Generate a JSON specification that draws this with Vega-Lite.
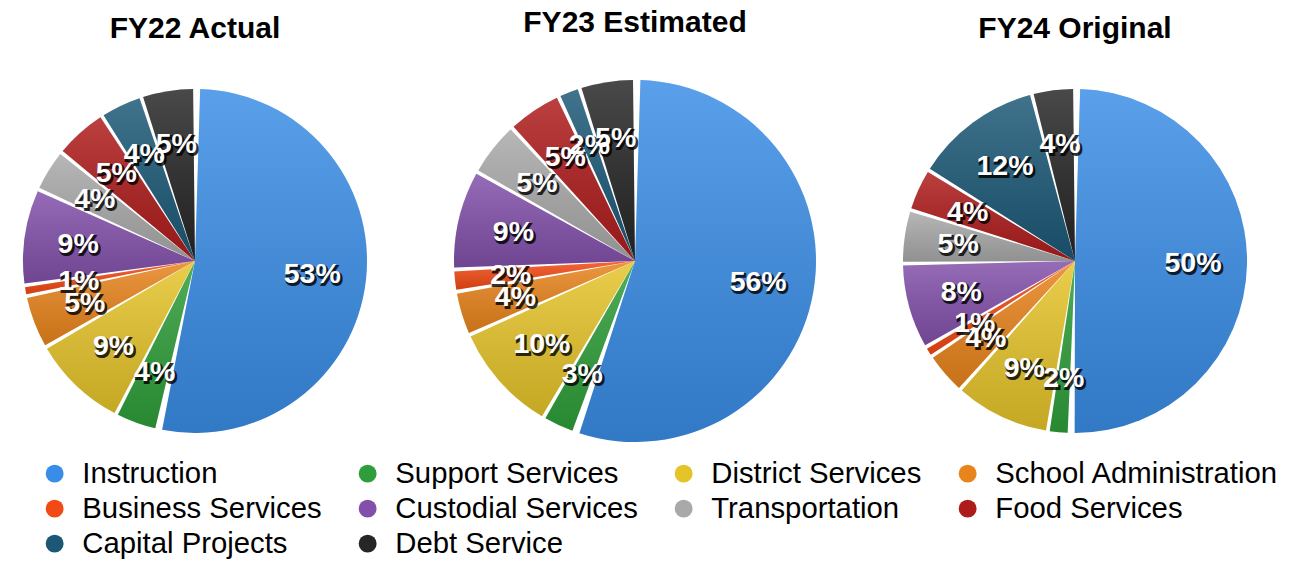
{
  "$schema": "https://vega.github.io/schema/vega-lite/v6.json",
  "padding": {"top": 8, "left": 0, "right": 0, "bottom": 0},
  "background": "white",
  "data": {"values": [
    {"year": "FY22", "category": "Instruction", "value": 0.53},
    {"year": "FY22", "category": "Support Services", "value": 0.04},
    {"year": "FY22", "category": "District Services", "value": 0.09},
    {"year": "FY22", "category": "School Administration", "value": 0.05},
    {"year": "FY22", "category": "Business Services", "value": 0.01},
    {"year": "FY22", "category": "Custodial Services", "value": 0.09},
    {"year": "FY22", "category": "Transportation", "value": 0.04},
    {"year": "FY22", "category": "Food Services", "value": 0.05},
    {"year": "FY22", "category": "Capital Projects", "value": 0.04},
    {"year": "FY22", "category": "Debt Service", "value": 0.05},
    {"year": "FY23", "category": "Instruction", "value": 0.56},
    {"year": "FY23", "category": "Support Services", "value": 0.03},
    {"year": "FY23", "category": "District Services", "value": 0.10},
    {"year": "FY23", "category": "School Administration", "value": 0.04},
    {"year": "FY23", "category": "Business Services", "value": 0.02},
    {"year": "FY23", "category": "Custodial Services", "value": 0.09},
    {"year": "FY23", "category": "Transportation", "value": 0.05},
    {"year": "FY23", "category": "Food Services", "value": 0.05},
    {"year": "FY23", "category": "Capital Projects", "value": 0.02},
    {"year": "FY23", "category": "Debt Service", "value": 0.05},
    {"year": "FY24", "category": "Instruction", "value": 0.50},
    {"year": "FY24", "category": "Support Services", "value": 0.02},
    {"year": "FY24", "category": "District Services", "value": 0.09},
    {"year": "FY24", "category": "School Administration", "value": 0.04},
    {"year": "FY24", "category": "Business Services", "value": 0.01},
    {"year": "FY24", "category": "Custodial Services", "value": 0.08},
    {"year": "FY24", "category": "Transportation", "value": 0.05},
    {"year": "FY24", "category": "Food Services", "value": 0.04},
    {"year": "FY24", "category": "Capital Projects", "value": 0.12},
    {"year": "FY24", "category": "Debt Service", "value": 0.04}
  ]},
  "bounds": "flush",
  "spacing": 50,
  "resolve": {"scale": {"color": "shared"}, "legend": {"color": "shared"}},
  "hconcat": [
    {
      "width": 390, "height": 380,
      "title": {"text": "FY22 Actual", "offset": 27},
      "transform": [
        {"filter": "datum.year === 'FY22'"},
        {"window": [{"op": "row_number", "as": "idx"}]},
        {"stack": "value", "groupby": [], "sort": [{"field": "idx", "order": "ascending"}], "as": ["v0", "v1"]}
      ],
      "layer": [
        {"transform": [{"filter": "datum.category !== 'Instruction'"}],
         "mark": {"type": "arc", "outerRadius": 172, "padAngle": 0.022},
         "encoding": {"theta": {"field": "v0", "type": "quantitative"}, "theta2": {"field": "v1"},
           "color": {"field": "category", "type": "nominal", "scale": {"domain": ["Instruction", "Support Services", "District Services", "School Administration", "Business Services", "Custodial Services", "Transportation", "Food Services", "Capital Projects", "Debt Service"], "range": ["#3A8DE6", "#2F9E3A", "#E5C42A", "#E8841C", "#F24A14", "#8250AA", "#A9A9A9", "#AE1B1B", "#1C5876", "#262626"]},
             "legend": {"title": null, "orient": "none", "legendX": 40, "legendY": 388}}}},
        {"transform": [{"filter": "datum.category === 'Instruction'"}],
         "mark": {"type": "arc", "outerRadius": 172, "padAngle": 0.06},
         "encoding": {"theta": {"field": "v0", "type": "quantitative"}, "theta2": {"field": "v1"},
           "color": {"field": "category", "type": "nominal"}}},
        {"transform": [{"filter": "datum.category !== 'Instruction'"}],
         "mark": {"type": "arc", "outerRadius": 172, "padAngle": 0.022, "fill": {"gradient": "linear", "x1": 0, "y1": 0, "x2": 0, "y2": 1, "stops": [{"offset": 0, "color": "rgba(255,255,255,0.16)"}, {"offset": 1, "color": "rgba(0,0,0,0.14)"}]}},
         "encoding": {"theta": {"field": "v0", "type": "quantitative"}, "theta2": {"field": "v1"}}},
        {"transform": [{"filter": "datum.category === 'Instruction'"}],
         "mark": {"type": "arc", "outerRadius": 172, "padAngle": 0.06, "fill": {"gradient": "linear", "x1": 0, "y1": 0, "x2": 0, "y2": 1, "stops": [{"offset": 0, "color": "rgba(255,255,255,0.16)"}, {"offset": 1, "color": "rgba(0,0,0,0.14)"}]}},
         "encoding": {"theta": {"field": "v0", "type": "quantitative"}, "theta2": {"field": "v1"}}},
        {"mark": {"type": "text", "radius": 118, "font": "Liberation Sans", "fontSize": 28.5, "fontWeight": "bold", "dx": 1.5, "dy": 2, "stroke": "#000", "strokeWidth": 2, "opacity": 0.8},
         "encoding": {"theta": {"field": "value", "type": "quantitative", "stack": true}, "order": {"field": "idx", "type": "quantitative"}, "text": {"field": "value", "type": "quantitative", "format": ".0%"}, "color": {"value": "#000"}}},
        {"mark": {"type": "text", "radius": 118, "font": "Liberation Sans", "fontSize": 28.5, "fontWeight": "bold"},
         "encoding": {"theta": {"field": "value", "type": "quantitative", "stack": true}, "order": {"field": "idx", "type": "quantitative"}, "text": {"field": "value", "type": "quantitative", "format": ".0%"}, "color": {"value": "white"}}}
      ]
    },
    {
      "width": 390, "height": 380,
      "title": {"text": "FY23 Estimated", "offset": 33},
      "transform": [
        {"filter": "datum.year === 'FY23'"},
        {"window": [{"op": "row_number", "as": "idx"}]},
        {"stack": "value", "groupby": [], "sort": [{"field": "idx", "order": "ascending"}], "as": ["v0", "v1"]}
      ],
      "layer": [
        {"transform": [{"filter": "datum.category !== 'Instruction'"}],
         "mark": {"type": "arc", "outerRadius": 181, "padAngle": 0.022},
         "encoding": {"theta": {"field": "v0", "type": "quantitative"}, "theta2": {"field": "v1"},
           "color": {"field": "category", "type": "nominal"}}},
        {"transform": [{"filter": "datum.category === 'Instruction'"}],
         "mark": {"type": "arc", "outerRadius": 181, "padAngle": 0.06},
         "encoding": {"theta": {"field": "v0", "type": "quantitative"}, "theta2": {"field": "v1"},
           "color": {"field": "category", "type": "nominal"}}},
        {"transform": [{"filter": "datum.category !== 'Instruction'"}],
         "mark": {"type": "arc", "outerRadius": 181, "padAngle": 0.022, "fill": {"gradient": "linear", "x1": 0, "y1": 0, "x2": 0, "y2": 1, "stops": [{"offset": 0, "color": "rgba(255,255,255,0.16)"}, {"offset": 1, "color": "rgba(0,0,0,0.14)"}]}},
         "encoding": {"theta": {"field": "v0", "type": "quantitative"}, "theta2": {"field": "v1"}}},
        {"transform": [{"filter": "datum.category === 'Instruction'"}],
         "mark": {"type": "arc", "outerRadius": 181, "padAngle": 0.06, "fill": {"gradient": "linear", "x1": 0, "y1": 0, "x2": 0, "y2": 1, "stops": [{"offset": 0, "color": "rgba(255,255,255,0.16)"}, {"offset": 1, "color": "rgba(0,0,0,0.14)"}]}},
         "encoding": {"theta": {"field": "v0", "type": "quantitative"}, "theta2": {"field": "v1"}}},
        {"mark": {"type": "text", "radius": 125, "font": "Liberation Sans", "fontSize": 28.5, "fontWeight": "bold", "dx": 1.5, "dy": 2, "stroke": "#000", "strokeWidth": 2, "opacity": 0.8},
         "encoding": {"theta": {"field": "value", "type": "quantitative", "stack": true}, "order": {"field": "idx", "type": "quantitative"}, "text": {"field": "value", "type": "quantitative", "format": ".0%"}, "color": {"value": "#000"}}},
        {"mark": {"type": "text", "radius": 125, "font": "Liberation Sans", "fontSize": 28.5, "fontWeight": "bold"},
         "encoding": {"theta": {"field": "value", "type": "quantitative", "stack": true}, "order": {"field": "idx", "type": "quantitative"}, "text": {"field": "value", "type": "quantitative", "format": ".0%"}, "color": {"value": "white"}}}
      ]
    },
    {
      "width": 390, "height": 380,
      "title": {"text": "FY24 Original", "offset": 27},
      "transform": [
        {"filter": "datum.year === 'FY24'"},
        {"window": [{"op": "row_number", "as": "idx"}]},
        {"stack": "value", "groupby": [], "sort": [{"field": "idx", "order": "ascending"}], "as": ["v0", "v1"]}
      ],
      "layer": [
        {"transform": [{"filter": "datum.category !== 'Instruction'"}],
         "mark": {"type": "arc", "outerRadius": 172, "padAngle": 0.022},
         "encoding": {"theta": {"field": "v0", "type": "quantitative"}, "theta2": {"field": "v1"},
           "color": {"field": "category", "type": "nominal"}}},
        {"transform": [{"filter": "datum.category === 'Instruction'"}],
         "mark": {"type": "arc", "outerRadius": 172, "padAngle": 0.06},
         "encoding": {"theta": {"field": "v0", "type": "quantitative"}, "theta2": {"field": "v1"},
           "color": {"field": "category", "type": "nominal"}}},
        {"transform": [{"filter": "datum.category !== 'Instruction'"}],
         "mark": {"type": "arc", "outerRadius": 172, "padAngle": 0.022, "fill": {"gradient": "linear", "x1": 0, "y1": 0, "x2": 0, "y2": 1, "stops": [{"offset": 0, "color": "rgba(255,255,255,0.16)"}, {"offset": 1, "color": "rgba(0,0,0,0.14)"}]}},
         "encoding": {"theta": {"field": "v0", "type": "quantitative"}, "theta2": {"field": "v1"}}},
        {"transform": [{"filter": "datum.category === 'Instruction'"}],
         "mark": {"type": "arc", "outerRadius": 172, "padAngle": 0.06, "fill": {"gradient": "linear", "x1": 0, "y1": 0, "x2": 0, "y2": 1, "stops": [{"offset": 0, "color": "rgba(255,255,255,0.16)"}, {"offset": 1, "color": "rgba(0,0,0,0.14)"}]}},
         "encoding": {"theta": {"field": "v0", "type": "quantitative"}, "theta2": {"field": "v1"}}},
        {"mark": {"type": "text", "radius": 118, "font": "Liberation Sans", "fontSize": 28.5, "fontWeight": "bold", "dx": 1.5, "dy": 2, "stroke": "#000", "strokeWidth": 2, "opacity": 0.8},
         "encoding": {"theta": {"field": "value", "type": "quantitative", "stack": true}, "order": {"field": "idx", "type": "quantitative"}, "text": {"field": "value", "type": "quantitative", "format": ".0%"}, "color": {"value": "#000"}}},
        {"mark": {"type": "text", "radius": 118, "font": "Liberation Sans", "fontSize": 28.5, "fontWeight": "bold"},
         "encoding": {"theta": {"field": "value", "type": "quantitative", "stack": true}, "order": {"field": "idx", "type": "quantitative"}, "text": {"field": "value", "type": "quantitative", "format": ".0%"}, "color": {"value": "white"}}}
      ]
    }
  ],
  "config": {
    "view": {"stroke": null},
    "title": {"font": "Liberation Sans", "fontSize": 30, "fontWeight": "bold", "color": "#000", "anchor": "middle"},
    "legend": {
      "direction": "horizontal", "columns": 4,
      "symbolType": "circle", "symbolSize": 320, "symbolStrokeWidth": 0, "symbolOpacity": 1,
      "labelFont": "Liberation Sans", "labelFontSize": 29.3, "labelColor": "#000", "labelLimit": 0,
      "labelOffset": 13, "columnPadding": 31, "rowPadding": 5
    }
  }
}
